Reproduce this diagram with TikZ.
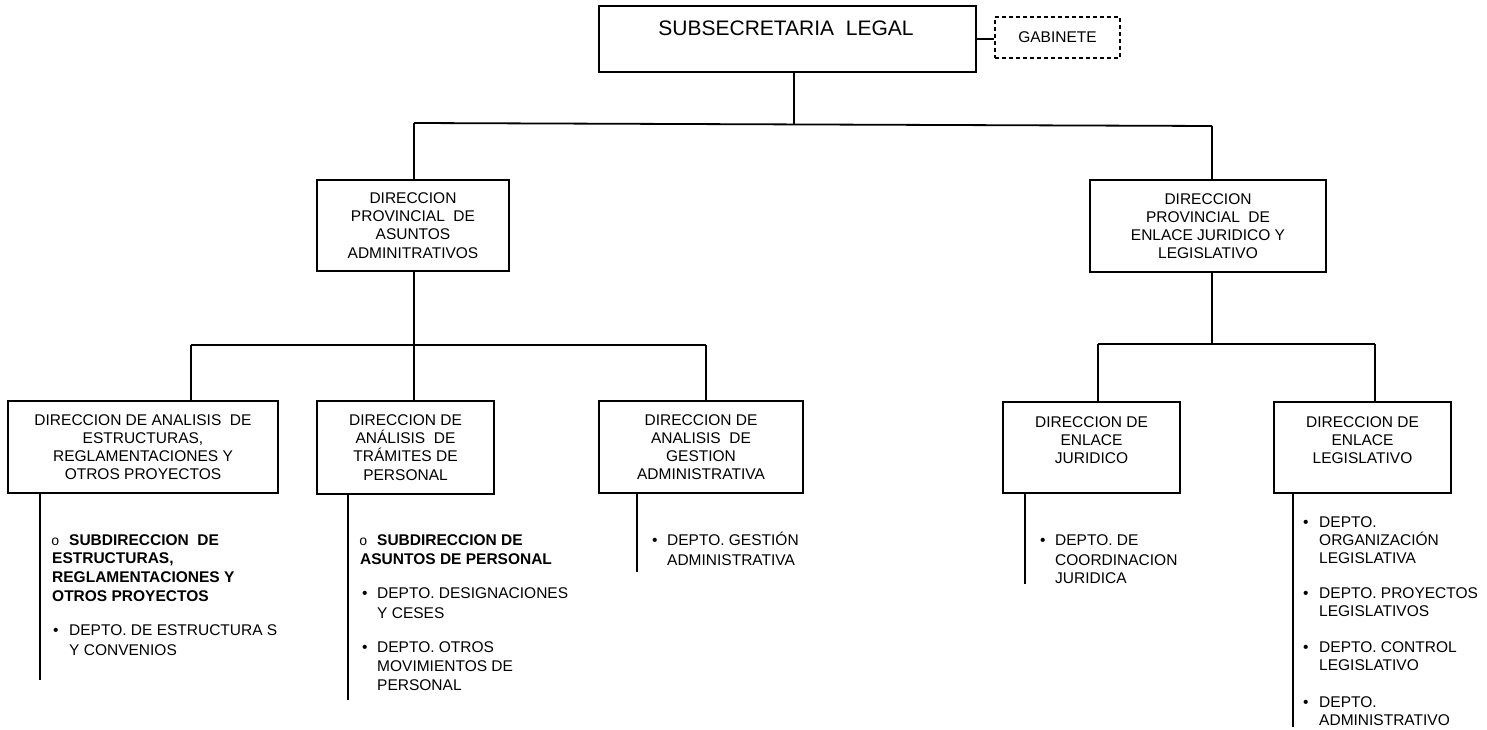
\documentclass[tikz,border=0pt]{standalone}
\usepackage{fontspec}
\setmainfont{Liberation Sans}
\newfontfamily\ringfamily{Liberation Mono}
\newcommand\orgfont{\fontsize{15.5}{18.2}\selectfont}
\newcommand\titlefont{\fontsize{21}{24}\selectfont}
\newcommand\ringfont{\ringfamily\fontsize{14}{16}\selectfont}
\begin{document}
\begin{tikzpicture}[x=1pt,y=-1pt,
  box/.style={draw, line width=1.8pt, inner sep=0pt, font=\orgfont, align=center},
  dashbox/.style={draw, line width=1.5pt, dash pattern=on 4pt off 3pt, inner sep=0pt, font=\orgfont},
  txt/.style={font=\orgfont, align=center, inner sep=0pt},
  wire/.style={line width=1.8pt},
  li/.style={font=\orgfont, anchor=base west, inner sep=0pt},
  lib/.style={font=\orgfont\bfseries, anchor=base west, inner sep=0pt},
  dot/.style={font=\orgfont, anchor=base west, inner sep=0pt},
  ring/.style={font=\ringfont, anchor=base west, inner sep=0pt}]
\useasboundingbox (0,0) rectangle (1487,730);

% ---- top level ----
\node[box, minimum width=377pt, minimum height=66pt] (top) at (787.5,39) {};
\node[font=\titlefont, inner sep=0pt] (toptxt) at (786,28) {SUBSECRETARIA\ \ LEGAL};
\node[dashbox, minimum width=125pt, minimum height=41pt] (gab) at (1057.5,37.5) {GABINETE};

% ---- provincial directions ----
\node[box, minimum width=192pt, minimum height=91pt] (dp1) at (413,225.5)
  {DIRECCION\\PROVINCIAL\ \ DE\\ASUNTOS\\ADMINITRATIVOS};
\node[box, minimum width=236pt, minimum height=92pt] (dp2) at (1208,226)
  {DIRECCION\\PROVINCIAL\ \ DE\\ENLACE JURIDICO Y\\LEGISLATIVO};

% ---- directions ----
\node[box, minimum width=270pt, minimum height=92pt] (da) at (143,447)
  {DIRECCION DE ANALISIS\ \ DE\\ESTRUCTURAS,\\REGLAMENTACIONES Y\\OTROS PROYECTOS};
\node[box, minimum width=177pt, minimum height=93pt] (db) at (405.5,447.5)
  {DIRECCION DE\\ANÁLISIS\ \ DE\\TRÁMITES DE\\PERSONAL};
\node[box, minimum width=204pt, minimum height=92pt] (dc) at (701,447)
  {DIRECCION DE\\ANALISIS\ \ DE\\GESTION\\ADMINISTRATIVA};
\node[box, minimum width=177pt, minimum height=91pt] (dd) at (1091.5,447.5) {};
\node[txt] (ddtxt) at (1091.5,440) {DIRECCION DE\\ENLACE\\JURIDICO};
\node[box, minimum width=177pt, minimum height=91pt] (de) at (1362.5,447.5) {};
\node[txt] (detxt) at (1362.5,440) {DIRECCION DE\\ENLACE\\LEGISLATIVO};

% ---- tree connectors ----
\coordinate (j1l) at (414,123);
\coordinate (j1r) at (1212,126);
\coordinate (j1m) at (794,124.4);
\draw[wire] (top.east) -- (top.east -| gab.west);
\draw[wire] (top.south -| j1m) -- (j1m);
\draw[wire] (j1l) -- (j1r);
\draw[wire] (j1l) -- (j1l |- dp1.north);
\draw[wire] (j1r) -- (j1r |- dp2.north);

\coordinate (j2) at (414,345);
\coordinate (j2l) at (191,345);
\coordinate (j2r) at (706,345);
\draw[wire] (dp1.south -| j2) -- (j2);
\draw[wire] (j2l) -- (j2r);
\draw[wire] (j2l) -- (j2l |- da.north);
\draw[wire] (j2) -- (j2 |- db.north);
\draw[wire] (j2r) -- (j2r |- dc.north);

\coordinate (j3) at (1212,344);
\coordinate (j3l) at (1098,344);
\coordinate (j3r) at (1375,344);
\draw[wire] (dp2.south -| j3) -- (j3);
\draw[wire] (j3l) -- (j3r);
\draw[wire] (j3l) -- (j3l |- dd.north);
\draw[wire] (j3r) -- (j3r |- de.north);

% ---- department stems ----
\coordinate (la) at (40,680);
\coordinate (lb) at (348,700);
\coordinate (lc) at (637,572);
\coordinate (ld) at (1025,584);
\coordinate (le) at (1293,727);
\draw[wire] (da.south -| la) -- (la);
\draw[wire] (db.south -| lb) -- (lb);
\draw[wire] (dc.south -| lc) -- (lc);
\draw[wire] (dd.south -| ld) -- (ld);
\draw[wire] (de.south -| le) -- (le);

% ---- lists under A ----
\node[ring] (a0) at (51,545.5) {o};
\node[lib] (a1) at (69,545.5) {SUBDIRECCION\ \ DE};
\node[lib] (a2) at (52,563.5) {ESTRUCTURAS,};
\node[lib] (a3) at (52,582.5) {REGLAMENTACIONES Y};
\node[lib] (a4) at (52,601.5) {OTROS PROYECTOS};
\node[dot] (a5b) at (53,635.5) {•};
\node[li] (a5) at (69,635.5) {DEPTO. DE ESTRUCTURA S};
\node[li] (a6) at (69,655.5) {Y CONVENIOS};

% ---- lists under B ----
\node[ring] (b0) at (359,545.5) {o};
\node[lib] (b1) at (377,545.5) {SUBDIRECCION DE};
\node[lib] (b2) at (360,564.5) {ASUNTOS DE PERSONAL};
\node[dot] (b3b) at (362,598.5) {•};
\node[li] (b3) at (377,598.5) {DEPTO. DESIGNACIONES};
\node[li] (b4) at (377,618.5) {Y CESES};
\node[dot] (b5b) at (362,652.5) {•};
\node[li] (b5) at (377,652.5) {DEPTO. OTROS};
\node[li] (b6) at (377,671.5) {MOVIMIENTOS DE};
\node[li] (b7) at (377,690.5) {PERSONAL};

% ---- lists under C ----
\node[dot] (c1b) at (652,545.5) {•};
\node[li] (c1) at (667,545.5) {DEPTO. GESTIÓN};
\node[li] (c2) at (667,565.5) {ADMINISTRATIVA};

% ---- lists under D ----
\node[dot] (d1b) at (1040,545.5) {•};
\node[li] (d1) at (1055,545.5) {DEPTO. DE};
\node[li] (d2) at (1055,565.5) {COORDINACION};
\node[li] (d3) at (1055,583.5) {JURIDICA};

% ---- lists under E ----
\node[dot] (e1b) at (1303,527.5) {•};
\node[li] (e1) at (1319,527.5) {DEPTO.};
\node[li] (e2) at (1319,545.5) {ORGANIZACIÓN};
\node[li] (e3) at (1319,563.5) {LEGISLATIVA};
\node[dot] (e4b) at (1303,598.5) {•};
\node[li] (e4) at (1319,598.5) {DEPTO. PROYECTOS};
\node[li] (e5) at (1319,616.5) {LEGISLATIVOS};
\node[dot] (e6b) at (1303,652.5) {•};
\node[li] (e6) at (1319,652.5) {DEPTO. CONTROL};
\node[li] (e7) at (1319,670.5) {LEGISLATIVO};
\node[dot] (e8b) at (1303,707.5) {•};
\node[li] (e8) at (1319,707.5) {DEPTO.};
\node[li] (e9) at (1319,725.5) {ADMINISTRATIVO};
\end{tikzpicture}
\end{document}
